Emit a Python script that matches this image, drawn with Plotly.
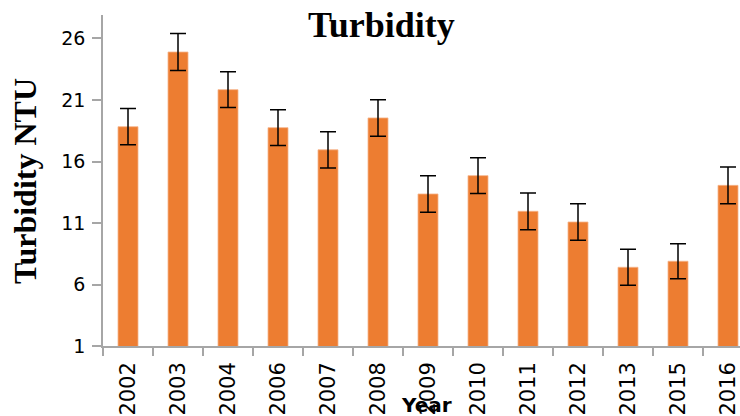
import plotly.graph_objects as go

years = ['2002', '2003', '2004', '2006', '2007', '2008', '2009',
         '2010', '2011', '2012', '2013', '2015', '2016']
turbidity = [18.83, 24.9, 21.84, 18.75, 16.95, 19.54, 13.36,
             14.85, 11.95, 11.08, 7.4, 7.89, 14.06]
errors = [1.47, 1.5, 1.46, 1.45, 1.47, 1.48, 1.49,
          1.45, 1.49, 1.49, 1.46, 1.43, 1.49]
y_ticks = [1, 6, 11, 16, 21, 26]

W, H = 740, 416
L, R, T, B = 103, 0, 15, 70

fig = go.Figure()
fig.add_trace(go.Bar(
    x=years, y=turbidity,
    marker=dict(color='#ED7D31', line=dict(color='#F5B48A', width=0.8)),
    error_y=dict(type='data', array=errors, visible=True,
                 color='#000000', thickness=1.5, width=8),
))

def px_x(p):
    return (p - L) / (W - L - R)

def px_y(p):
    return (H - B - p) / (H - T - B)

fig.update_layout(
    width=W, height=H,
    margin=dict(l=L, r=R, t=T, b=B, autoexpand=False),
    paper_bgcolor='white', plot_bgcolor='white',
    bargap=0.6,
    showlegend=False,
    xaxis=dict(
        type='category', range=[-0.5, 12.24],
        showline=True, linecolor='#A6A6A6', linewidth=1.5,
        ticks='outside', tickson='boundaries', ticklen=8,
        tickcolor='#A6A6A6', tickwidth=1.5,
        tickangle=-90, tickfont=dict(family='DejaVu Sans', size=21, color='#000000'),
        ticklabelstandoff=6,
        showgrid=False, zeroline=False, automargin=False,
    ),
    yaxis=dict(
        range=[1, 27.91], tickvals=y_ticks,
        showline=True, linecolor='#A6A6A6', linewidth=1.5,
        ticks='outside', ticklen=9, tickcolor='#A6A6A6', tickwidth=1.5,
        tickfont=dict(family='DejaVu Sans', size=19, color='#000000'),
        ticklabelstandoff=3,
        showgrid=False, zeroline=False, automargin=False,
    ),
    annotations=[
        dict(text='<b>Turbidity</b>', xref='paper', yref='paper',
             x=px_x(381), y=px_y(3), xanchor='center', yanchor='top',
             showarrow=False,
             font=dict(family='Liberation Serif', size=36, color='#000000')),
        dict(text='<b>Turbidity NTU</b>', xref='paper', yref='paper',
             x=px_x(25), y=px_y(181), xanchor='center', yanchor='middle',
             textangle=-90, showarrow=False,
             font=dict(family='Liberation Serif', size=32, color='#000000')),
        dict(text='<b>Year</b>', xref='paper', yref='paper',
             x=px_x(426), y=px_y(405), xanchor='center', yanchor='middle',
             showarrow=False,
             font=dict(family='DejaVu Sans', size=20, color='#000000')),
    ],
)

fig.write_html('out.html', config={'displayModeBar': False},
               post_script="document.body.style.margin='0px';document.body.style.overflow='hidden';")
